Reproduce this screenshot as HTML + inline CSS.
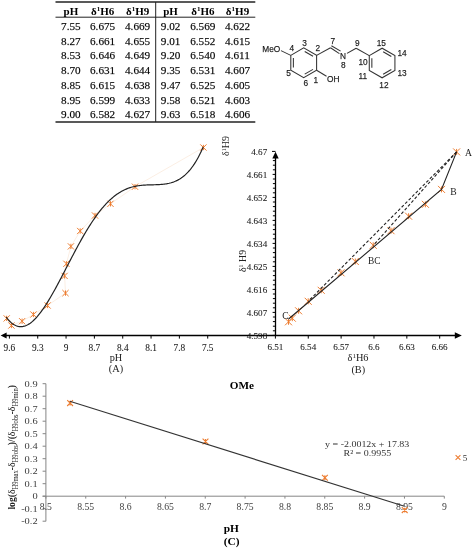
<!DOCTYPE html>
<html><head><meta charset="utf-8"><style>
html,body{margin:0;padding:0;background:#fff;width:472px;height:550px;overflow:hidden}
svg{display:block}
.tk{stroke:#000;stroke-width:0.25;stroke-opacity:0.6}
.tl{stroke:#000;stroke-width:0.15;stroke-opacity:0.5}
</style></head><body>
<svg width="472" height="550" viewBox="0 0 472 550">
<rect width="472" height="550" fill="#fff"/>
<line x1="55.5" y1="2" x2="255.3" y2="2" stroke="#222" stroke-width="1.6"/>
<line x1="55.5" y1="17.2" x2="255.3" y2="17.2" stroke="#222" stroke-width="1"/>
<line x1="55.5" y1="122" x2="255.3" y2="122" stroke="#222" stroke-width="1.6"/>
<line x1="155.7" y1="2" x2="155.7" y2="122" stroke="#222" stroke-width="1"/>
<text x="70.9" y="14.6" font-size="11" text-anchor="middle" font-weight="bold" font-family='"Liberation Serif", serif' fill="#000" >pH</text>
<text x="102.6" y="14.6" font-size="11" text-anchor="middle" font-weight="bold" font-family='"Liberation Serif", serif' fill="#000" >δ<tspan font-size="7" dy="-4">1</tspan><tspan dy="4">H6</tspan></text>
<text x="137.6" y="14.6" font-size="11" text-anchor="middle" font-weight="bold" font-family='"Liberation Serif", serif' fill="#000" >δ<tspan font-size="7" dy="-4">1</tspan><tspan dy="4">H9</tspan></text>
<text x="170.6" y="14.6" font-size="11" text-anchor="middle" font-weight="bold" font-family='"Liberation Serif", serif' fill="#000" >pH</text>
<text x="202.8" y="14.6" font-size="11" text-anchor="middle" font-weight="bold" font-family='"Liberation Serif", serif' fill="#000" >δ<tspan font-size="7" dy="-4">1</tspan><tspan dy="4">H6</tspan></text>
<text x="237.5" y="14.6" font-size="11" text-anchor="middle" font-weight="bold" font-family='"Liberation Serif", serif' fill="#000" >δ<tspan font-size="7" dy="-4">1</tspan><tspan dy="4">H9</tspan></text>
<text x="70.9" y="29.9" font-size="11.2" text-anchor="middle" font-weight="normal" font-family='"Liberation Serif", serif' fill="#000" class="tk">7.55</text>
<text x="102.6" y="29.9" font-size="11.2" text-anchor="middle" font-weight="normal" font-family='"Liberation Serif", serif' fill="#000" class="tk">6.675</text>
<text x="137.6" y="29.9" font-size="11.2" text-anchor="middle" font-weight="normal" font-family='"Liberation Serif", serif' fill="#000" class="tk">4.669</text>
<text x="170.6" y="29.9" font-size="11.2" text-anchor="middle" font-weight="normal" font-family='"Liberation Serif", serif' fill="#000" class="tk">9.02</text>
<text x="202.8" y="29.9" font-size="11.2" text-anchor="middle" font-weight="normal" font-family='"Liberation Serif", serif' fill="#000" class="tk">6.569</text>
<text x="237.5" y="29.9" font-size="11.2" text-anchor="middle" font-weight="normal" font-family='"Liberation Serif", serif' fill="#000" class="tk">4.622</text>
<text x="70.9" y="44.65" font-size="11.2" text-anchor="middle" font-weight="normal" font-family='"Liberation Serif", serif' fill="#000" class="tk">8.27</text>
<text x="102.6" y="44.65" font-size="11.2" text-anchor="middle" font-weight="normal" font-family='"Liberation Serif", serif' fill="#000" class="tk">6.661</text>
<text x="137.6" y="44.65" font-size="11.2" text-anchor="middle" font-weight="normal" font-family='"Liberation Serif", serif' fill="#000" class="tk">4.655</text>
<text x="170.6" y="44.65" font-size="11.2" text-anchor="middle" font-weight="normal" font-family='"Liberation Serif", serif' fill="#000" class="tk">9.01</text>
<text x="202.8" y="44.65" font-size="11.2" text-anchor="middle" font-weight="normal" font-family='"Liberation Serif", serif' fill="#000" class="tk">6.552</text>
<text x="237.5" y="44.65" font-size="11.2" text-anchor="middle" font-weight="normal" font-family='"Liberation Serif", serif' fill="#000" class="tk">4.615</text>
<text x="70.9" y="59.4" font-size="11.2" text-anchor="middle" font-weight="normal" font-family='"Liberation Serif", serif' fill="#000" class="tk">8.53</text>
<text x="102.6" y="59.4" font-size="11.2" text-anchor="middle" font-weight="normal" font-family='"Liberation Serif", serif' fill="#000" class="tk">6.646</text>
<text x="137.6" y="59.4" font-size="11.2" text-anchor="middle" font-weight="normal" font-family='"Liberation Serif", serif' fill="#000" class="tk">4.649</text>
<text x="170.6" y="59.4" font-size="11.2" text-anchor="middle" font-weight="normal" font-family='"Liberation Serif", serif' fill="#000" class="tk">9.20</text>
<text x="202.8" y="59.4" font-size="11.2" text-anchor="middle" font-weight="normal" font-family='"Liberation Serif", serif' fill="#000" class="tk">6.540</text>
<text x="237.5" y="59.4" font-size="11.2" text-anchor="middle" font-weight="normal" font-family='"Liberation Serif", serif' fill="#000" class="tk">4.611</text>
<text x="70.9" y="74.15" font-size="11.2" text-anchor="middle" font-weight="normal" font-family='"Liberation Serif", serif' fill="#000" class="tk">8.70</text>
<text x="102.6" y="74.15" font-size="11.2" text-anchor="middle" font-weight="normal" font-family='"Liberation Serif", serif' fill="#000" class="tk">6.631</text>
<text x="137.6" y="74.15" font-size="11.2" text-anchor="middle" font-weight="normal" font-family='"Liberation Serif", serif' fill="#000" class="tk">4.644</text>
<text x="170.6" y="74.15" font-size="11.2" text-anchor="middle" font-weight="normal" font-family='"Liberation Serif", serif' fill="#000" class="tk">9.35</text>
<text x="202.8" y="74.15" font-size="11.2" text-anchor="middle" font-weight="normal" font-family='"Liberation Serif", serif' fill="#000" class="tk">6.531</text>
<text x="237.5" y="74.15" font-size="11.2" text-anchor="middle" font-weight="normal" font-family='"Liberation Serif", serif' fill="#000" class="tk">4.607</text>
<text x="70.9" y="88.9" font-size="11.2" text-anchor="middle" font-weight="normal" font-family='"Liberation Serif", serif' fill="#000" class="tk">8.85</text>
<text x="102.6" y="88.9" font-size="11.2" text-anchor="middle" font-weight="normal" font-family='"Liberation Serif", serif' fill="#000" class="tk">6.615</text>
<text x="137.6" y="88.9" font-size="11.2" text-anchor="middle" font-weight="normal" font-family='"Liberation Serif", serif' fill="#000" class="tk">4.638</text>
<text x="170.6" y="88.9" font-size="11.2" text-anchor="middle" font-weight="normal" font-family='"Liberation Serif", serif' fill="#000" class="tk">9.47</text>
<text x="202.8" y="88.9" font-size="11.2" text-anchor="middle" font-weight="normal" font-family='"Liberation Serif", serif' fill="#000" class="tk">6.525</text>
<text x="237.5" y="88.9" font-size="11.2" text-anchor="middle" font-weight="normal" font-family='"Liberation Serif", serif' fill="#000" class="tk">4.605</text>
<text x="70.9" y="103.65" font-size="11.2" text-anchor="middle" font-weight="normal" font-family='"Liberation Serif", serif' fill="#000" class="tk">8.95</text>
<text x="102.6" y="103.65" font-size="11.2" text-anchor="middle" font-weight="normal" font-family='"Liberation Serif", serif' fill="#000" class="tk">6.599</text>
<text x="137.6" y="103.65" font-size="11.2" text-anchor="middle" font-weight="normal" font-family='"Liberation Serif", serif' fill="#000" class="tk">4.633</text>
<text x="170.6" y="103.65" font-size="11.2" text-anchor="middle" font-weight="normal" font-family='"Liberation Serif", serif' fill="#000" class="tk">9.58</text>
<text x="202.8" y="103.65" font-size="11.2" text-anchor="middle" font-weight="normal" font-family='"Liberation Serif", serif' fill="#000" class="tk">6.521</text>
<text x="237.5" y="103.65" font-size="11.2" text-anchor="middle" font-weight="normal" font-family='"Liberation Serif", serif' fill="#000" class="tk">4.603</text>
<text x="70.9" y="118.4" font-size="11.2" text-anchor="middle" font-weight="normal" font-family='"Liberation Serif", serif' fill="#000" class="tk">9.00</text>
<text x="102.6" y="118.4" font-size="11.2" text-anchor="middle" font-weight="normal" font-family='"Liberation Serif", serif' fill="#000" class="tk">6.582</text>
<text x="137.6" y="118.4" font-size="11.2" text-anchor="middle" font-weight="normal" font-family='"Liberation Serif", serif' fill="#000" class="tk">4.627</text>
<text x="170.6" y="118.4" font-size="11.2" text-anchor="middle" font-weight="normal" font-family='"Liberation Serif", serif' fill="#000" class="tk">9.63</text>
<text x="202.8" y="118.4" font-size="11.2" text-anchor="middle" font-weight="normal" font-family='"Liberation Serif", serif' fill="#000" class="tk">6.518</text>
<text x="237.5" y="118.4" font-size="11.2" text-anchor="middle" font-weight="normal" font-family='"Liberation Serif", serif' fill="#000" class="tk">4.606</text>
<polygon points="290.80,55.35 303.70,47.90 316.60,55.35 316.60,70.25 303.70,77.70 290.80,70.25" stroke="#333" stroke-width="1.05" fill="none"/>
<line x1="304.73" y1="51.48" x2="312.99" y2="56.24" stroke="#333" stroke-width="1.05" fill="none"/>
<line x1="312.99" y1="69.36" x2="304.73" y2="74.12" stroke="#333" stroke-width="1.05" fill="none"/>
<line x1="293.38" y1="67.57" x2="293.38" y2="58.03" stroke="#333" stroke-width="1.05" fill="none"/>
<polygon points="369.28,55.60 382.10,48.20 394.92,55.60 394.92,70.40 382.10,77.80 369.28,70.40" stroke="#333" stroke-width="1.05" fill="none"/>
<line x1="383.13" y1="51.75" x2="391.33" y2="56.49" stroke="#333" stroke-width="1.05" fill="none"/>
<line x1="391.33" y1="69.51" x2="383.13" y2="74.25" stroke="#333" stroke-width="1.05" fill="none"/>
<line x1="371.85" y1="67.74" x2="371.85" y2="58.26" stroke="#333" stroke-width="1.05" fill="none"/>
<line x1="316.60" y1="55.35" x2="330.50" y2="47.70" stroke="#333" stroke-width="1.05" fill="none" />
<line x1="330.50" y1="47.70" x2="339.40" y2="53.60" stroke="#333" stroke-width="1.05" fill="none" />
<line x1="331.40" y1="45.70" x2="340.60" y2="51.10" stroke="#333" stroke-width="1.05" fill="none" />
<line x1="347.00" y1="53.40" x2="356.10" y2="48.20" stroke="#333" stroke-width="1.05" fill="none" />
<line x1="356.10" y1="48.20" x2="369.28" y2="55.60" stroke="#333" stroke-width="1.05" fill="none" />
<line x1="316.60" y1="70.25" x2="326.50" y2="76.20" stroke="#333" stroke-width="1.05" fill="none" />
<line x1="290.80" y1="55.35" x2="281.00" y2="50.60" stroke="#333" stroke-width="1.05" fill="none" />
<text x="262.3" y="51.9" font-size="8.3" text-anchor="start" font-weight="normal" font-family='"Liberation Sans", sans-serif' fill="#222" class="tk">MeO</text>
<text x="327.0" y="81.6" font-size="8.3" text-anchor="start" font-weight="normal" font-family='"Liberation Sans", sans-serif' fill="#222" class="tk">OH</text>
<text x="343.0" y="59.1" font-size="8.3" text-anchor="middle" font-weight="normal" font-family='"Liberation Sans", sans-serif' fill="#222" class="tk">N</text>
<text x="304.5" y="45.8" font-size="8.3" text-anchor="middle" font-weight="normal" font-family='"Liberation Sans", sans-serif' fill="#222" class="tk">3</text>
<text x="291.8" y="51.4" font-size="8.3" text-anchor="middle" font-weight="normal" font-family='"Liberation Sans", sans-serif' fill="#222" class="tk">4</text>
<text x="317.8" y="51.4" font-size="8.3" text-anchor="middle" font-weight="normal" font-family='"Liberation Sans", sans-serif' fill="#222" class="tk">2</text>
<text x="288.6" y="75.5" font-size="8.3" text-anchor="middle" font-weight="normal" font-family='"Liberation Sans", sans-serif' fill="#222" class="tk">5</text>
<text x="315.9" y="82.5" font-size="8.3" text-anchor="middle" font-weight="normal" font-family='"Liberation Sans", sans-serif' fill="#222" class="tk">1</text>
<text x="305.7" y="85.7" font-size="8.3" text-anchor="middle" font-weight="normal" font-family='"Liberation Sans", sans-serif' fill="#222" class="tk">6</text>
<text x="332.8" y="44.4" font-size="8.3" text-anchor="middle" font-weight="normal" font-family='"Liberation Sans", sans-serif' fill="#222" class="tk">7</text>
<text x="343.2" y="68.3" font-size="8.3" text-anchor="middle" font-weight="normal" font-family='"Liberation Sans", sans-serif' fill="#222" class="tk">8</text>
<text x="357.4" y="45.6" font-size="8.3" text-anchor="middle" font-weight="normal" font-family='"Liberation Sans", sans-serif' fill="#222" class="tk">9</text>
<text x="381.3" y="46" font-size="8.3" text-anchor="middle" font-weight="normal" font-family='"Liberation Sans", sans-serif' fill="#222" class="tk">15</text>
<text x="402.1" y="56.4" font-size="8.3" text-anchor="middle" font-weight="normal" font-family='"Liberation Sans", sans-serif' fill="#222" class="tk">14</text>
<text x="363.0" y="65" font-size="8.3" text-anchor="middle" font-weight="normal" font-family='"Liberation Sans", sans-serif' fill="#222" class="tk">10</text>
<text x="402.1" y="76.4" font-size="8.3" text-anchor="middle" font-weight="normal" font-family='"Liberation Sans", sans-serif' fill="#222" class="tk">13</text>
<text x="362.8" y="79.4" font-size="8.3" text-anchor="middle" font-weight="normal" font-family='"Liberation Sans", sans-serif' fill="#222" class="tk">11</text>
<text x="383.9" y="87.5" font-size="8.3" text-anchor="middle" font-weight="normal" font-family='"Liberation Sans", sans-serif' fill="#222" class="tk">12</text>
<polyline points="6.7,318.4 11.4,325.5 22.1,321.2 33.4,314.5 47.6,305.5 65.5,293.1 64.6,275.9 66.4,263.8 70.9,246.4 80.2,231 95,215.5 110.5,203.8 135,186.7 203.4,147.5" stroke="#F7E0CC" stroke-width="0.55" fill="none"/>
<path d="M3.60,315.30L9.80,321.50M3.60,321.50L9.80,315.30M6.70,315.76L6.70,321.03" stroke="#ED7D31" stroke-width="1.0" fill="none"/>
<path d="M8.30,322.40L14.50,328.60M8.30,328.60L14.50,322.40M11.40,322.87L11.40,328.13" stroke="#ED7D31" stroke-width="1.0" fill="none"/>
<path d="M19.00,318.10L25.20,324.30M19.00,324.30L25.20,318.10M22.10,318.56L22.10,323.83" stroke="#ED7D31" stroke-width="1.0" fill="none"/>
<path d="M30.30,311.40L36.50,317.60M30.30,317.60L36.50,311.40M33.40,311.87L33.40,317.13" stroke="#ED7D31" stroke-width="1.0" fill="none"/>
<path d="M44.50,302.40L50.70,308.60M44.50,308.60L50.70,302.40M47.60,302.87L47.60,308.13" stroke="#ED7D31" stroke-width="1.0" fill="none"/>
<path d="M62.40,290.00L68.60,296.20M62.40,296.20L68.60,290.00M65.50,290.47L65.50,295.74" stroke="#ED7D31" stroke-width="1.0" fill="none"/>
<path d="M61.50,272.80L67.70,279.00M61.50,279.00L67.70,272.80M64.60,273.26L64.60,278.53" stroke="#ED7D31" stroke-width="1.0" fill="none"/>
<path d="M63.30,260.70L69.50,266.90M63.30,266.90L69.50,260.70M66.40,261.17L66.40,266.44" stroke="#ED7D31" stroke-width="1.0" fill="none"/>
<path d="M67.80,243.30L74.00,249.50M67.80,249.50L74.00,243.30M70.90,243.77L70.90,249.03" stroke="#ED7D31" stroke-width="1.0" fill="none"/>
<path d="M77.10,227.90L83.30,234.10M77.10,234.10L83.30,227.90M80.20,228.37L80.20,233.63" stroke="#ED7D31" stroke-width="1.0" fill="none"/>
<path d="M91.90,212.40L98.10,218.60M91.90,218.60L98.10,212.40M95.00,212.87L95.00,218.13" stroke="#ED7D31" stroke-width="1.0" fill="none"/>
<path d="M107.40,200.70L113.60,206.90M107.40,206.90L113.60,200.70M110.50,201.17L110.50,206.44" stroke="#ED7D31" stroke-width="1.0" fill="none"/>
<path d="M131.90,183.60L138.10,189.80M131.90,189.80L138.10,183.60M135.00,184.06L135.00,189.33" stroke="#ED7D31" stroke-width="1.0" fill="none"/>
<path d="M200.30,144.40L206.50,150.60M200.30,150.60L206.50,144.40M203.40,144.87L203.40,150.13" stroke="#ED7D31" stroke-width="1.0" fill="none"/>
<polyline points="6.2,317.17 7.2,318.46 8.2,319.65 9.2,320.74 10.2,321.74 11.2,322.64 12.2,323.45 13.2,324.17 14.2,324.80 15.2,325.33 16.2,325.77 17.2,326.13 18.2,326.39 19.2,326.57 20.2,326.66 21.2,326.67 22.2,326.60 23.2,326.44 24.2,326.20 25.2,325.89 26.2,325.50 27.2,325.03 28.2,324.49 29.2,323.88 30.2,323.19 31.2,322.44 32.2,321.62 33.2,320.74 34.2,319.80 35.2,318.79 36.2,317.73 37.2,316.61 38.2,315.43 39.2,314.20 40.2,312.92 41.2,311.59 42.2,310.21 43.2,308.79 44.2,307.32 45.2,305.82 46.2,304.27 47.2,302.69 48.2,301.07 49.2,299.42 50.2,297.73 51.2,296.02 52.2,294.28 53.2,292.52 54.2,290.73 55.2,288.92 56.2,287.09 57.2,285.24 58.2,283.37 59.2,281.50 60.2,279.60 61.2,277.70 62.2,275.79 63.2,273.87 64.2,271.95 65.2,270.02 66.2,268.09 67.2,266.16 68.2,264.24 69.2,262.31 70.2,260.39 71.2,258.47 72.2,256.56 73.2,254.66 74.2,252.77 75.2,250.89 76.2,249.02 77.2,247.16 78.2,245.33 79.2,243.50 80.2,241.70 81.2,239.91 82.2,238.14 83.2,236.39 84.2,234.67 85.2,232.97 86.2,231.29 87.2,229.63 88.2,228.00 89.2,226.40 90.2,224.82 91.2,223.27 92.2,221.75 93.2,220.26 94.2,218.80 95.2,217.36 96.2,215.96 97.2,214.59 98.2,213.25 99.2,211.94 100.2,210.67 101.2,209.43 102.2,208.22 103.2,207.04 104.2,205.90 105.2,204.79 106.2,203.71 107.2,202.67 108.2,201.66 109.2,200.68 110.2,199.74 111.2,198.83 112.2,197.96 113.2,197.12 114.2,196.31 115.2,195.53 116.2,194.79 117.2,194.08 118.2,193.40 119.2,192.76 120.2,192.14 121.2,191.56 122.2,191.00 123.2,190.48 124.2,189.98 125.2,189.52 126.2,189.08 127.2,188.67 128.2,188.29 129.2,187.93 130.2,187.60 131.2,187.29 132.2,187.00 133.2,186.74 134.2,186.50 135.2,186.29 136.2,186.09 137.2,185.91 138.2,185.75 139.2,185.61 140.2,185.48 141.2,185.37 142.2,185.27 143.2,185.18 144.2,185.11 145.2,185.05 146.2,185.00 147.2,184.95 148.2,184.92 149.2,184.88 150.2,184.86 151.2,184.83 152.2,184.81 153.2,184.79 154.2,184.76 155.2,184.74 156.2,184.71 157.2,184.67 158.2,184.63 159.2,184.58 160.2,184.52 161.2,184.45 162.2,184.37 163.2,184.27 164.2,184.15 165.2,184.02 166.2,183.86 167.2,183.69 168.2,183.49 169.2,183.27 170.2,183.02 171.2,182.75 172.2,182.44 173.2,182.10 174.2,181.73 175.2,181.32 176.2,180.88 177.2,180.39 178.2,179.87 179.2,179.30 180.2,178.68 181.2,178.02 182.2,177.31 183.2,176.55 184.2,175.73 185.2,174.86 186.2,173.93 187.2,172.94 188.2,171.89 189.2,170.77 190.2,169.59 191.2,168.34 192.2,167.01 193.2,165.62 194.2,164.15 195.2,162.59 196.2,160.96 197.2,159.25 198.2,157.45 199.2,155.56 200.2,153.58 201.2,151.50 202.2,149.33 203.2,147.06" stroke="#222" stroke-width="1.2" fill="none"/>
<line x1="4" y1="335.5" x2="456" y2="335.5" stroke="#000" stroke-width="1.3"/>
<polygon points="0.6,335.5 6.6,332.4 6.6,338.6" fill="#000"/>
<line x1="9.40" y1="335.5" x2="9.40" y2="338.6" stroke="#000" stroke-width="1"/>
<text x="9.4" y="350.7" font-size="9.3" text-anchor="middle" font-weight="normal" font-family='"Liberation Serif", serif' fill="#222" class="tl">9.6</text>
<line x1="37.73" y1="335.5" x2="37.73" y2="338.6" stroke="#000" stroke-width="1"/>
<text x="37.73" y="350.7" font-size="9.3" text-anchor="middle" font-weight="normal" font-family='"Liberation Serif", serif' fill="#222" class="tl">9.3</text>
<line x1="66.06" y1="335.5" x2="66.06" y2="338.6" stroke="#000" stroke-width="1"/>
<text x="66.06" y="350.7" font-size="9.3" text-anchor="middle" font-weight="normal" font-family='"Liberation Serif", serif' fill="#222" class="tl">9</text>
<line x1="94.39" y1="335.5" x2="94.39" y2="338.6" stroke="#000" stroke-width="1"/>
<text x="94.39" y="350.7" font-size="9.3" text-anchor="middle" font-weight="normal" font-family='"Liberation Serif", serif' fill="#222" class="tl">8.7</text>
<line x1="122.72" y1="335.5" x2="122.72" y2="338.6" stroke="#000" stroke-width="1"/>
<text x="122.72" y="350.7" font-size="9.3" text-anchor="middle" font-weight="normal" font-family='"Liberation Serif", serif' fill="#222" class="tl">8.4</text>
<line x1="151.05" y1="335.5" x2="151.05" y2="338.6" stroke="#000" stroke-width="1"/>
<text x="151.05" y="350.7" font-size="9.3" text-anchor="middle" font-weight="normal" font-family='"Liberation Serif", serif' fill="#222" class="tl">8.1</text>
<line x1="179.38" y1="335.5" x2="179.38" y2="338.6" stroke="#000" stroke-width="1"/>
<text x="179.38" y="350.7" font-size="9.3" text-anchor="middle" font-weight="normal" font-family='"Liberation Serif", serif' fill="#222" class="tl">7.8</text>
<line x1="207.71" y1="335.5" x2="207.71" y2="338.6" stroke="#000" stroke-width="1"/>
<text x="207.71" y="350.7" font-size="9.3" text-anchor="middle" font-weight="normal" font-family='"Liberation Serif", serif' fill="#222" class="tl">7.5</text>
<text x="116" y="361.0" font-size="10.3" text-anchor="middle" font-weight="normal" font-family='"Liberation Serif", serif' fill="#222" >pH</text>
<text x="116" y="372.4" font-size="10.3" text-anchor="middle" font-weight="normal" font-family='"Liberation Serif", serif' fill="#222" >(A)</text>
<text transform="translate(228.6,156) rotate(-90)" font-size="10" font-family='"Liberation Serif", serif' fill="#222">δ<tspan font-size="6" dy="-3">1</tspan><tspan dy="3">H9</tspan></text>
<line x1="275.5" y1="335.5" x2="275.5" y2="158" stroke="#000" stroke-width="1.3"/>
<polygon points="275.5,151.8 272.3,158.6 278.7,158.6" fill="#000"/>
<line x1="272.6" y1="335.40" x2="275.5" y2="335.40" stroke="#000" stroke-width="1"/>
<line x1="272.9" y1="330.80" x2="275.5" y2="330.80" stroke="#000" stroke-width="1"/>
<line x1="272.9" y1="326.20" x2="275.5" y2="326.20" stroke="#000" stroke-width="1"/>
<line x1="272.9" y1="321.60" x2="275.5" y2="321.60" stroke="#000" stroke-width="1"/>
<line x1="272.9" y1="317.00" x2="275.5" y2="317.00" stroke="#000" stroke-width="1"/>
<line x1="272.6" y1="312.40" x2="275.5" y2="312.40" stroke="#000" stroke-width="1"/>
<line x1="272.9" y1="307.80" x2="275.5" y2="307.80" stroke="#000" stroke-width="1"/>
<line x1="272.9" y1="303.20" x2="275.5" y2="303.20" stroke="#000" stroke-width="1"/>
<line x1="272.9" y1="298.60" x2="275.5" y2="298.60" stroke="#000" stroke-width="1"/>
<line x1="272.9" y1="294.00" x2="275.5" y2="294.00" stroke="#000" stroke-width="1"/>
<line x1="272.6" y1="289.40" x2="275.5" y2="289.40" stroke="#000" stroke-width="1"/>
<line x1="272.9" y1="284.80" x2="275.5" y2="284.80" stroke="#000" stroke-width="1"/>
<line x1="272.9" y1="280.20" x2="275.5" y2="280.20" stroke="#000" stroke-width="1"/>
<line x1="272.9" y1="275.60" x2="275.5" y2="275.60" stroke="#000" stroke-width="1"/>
<line x1="272.9" y1="271.00" x2="275.5" y2="271.00" stroke="#000" stroke-width="1"/>
<line x1="272.6" y1="266.40" x2="275.5" y2="266.40" stroke="#000" stroke-width="1"/>
<line x1="272.9" y1="261.80" x2="275.5" y2="261.80" stroke="#000" stroke-width="1"/>
<line x1="272.9" y1="257.20" x2="275.5" y2="257.20" stroke="#000" stroke-width="1"/>
<line x1="272.9" y1="252.60" x2="275.5" y2="252.60" stroke="#000" stroke-width="1"/>
<line x1="272.9" y1="248.00" x2="275.5" y2="248.00" stroke="#000" stroke-width="1"/>
<line x1="272.6" y1="243.40" x2="275.5" y2="243.40" stroke="#000" stroke-width="1"/>
<line x1="272.9" y1="238.80" x2="275.5" y2="238.80" stroke="#000" stroke-width="1"/>
<line x1="272.9" y1="234.20" x2="275.5" y2="234.20" stroke="#000" stroke-width="1"/>
<line x1="272.9" y1="229.60" x2="275.5" y2="229.60" stroke="#000" stroke-width="1"/>
<line x1="272.9" y1="225.00" x2="275.5" y2="225.00" stroke="#000" stroke-width="1"/>
<line x1="272.6" y1="220.40" x2="275.5" y2="220.40" stroke="#000" stroke-width="1"/>
<line x1="272.9" y1="215.80" x2="275.5" y2="215.80" stroke="#000" stroke-width="1"/>
<line x1="272.9" y1="211.20" x2="275.5" y2="211.20" stroke="#000" stroke-width="1"/>
<line x1="272.9" y1="206.60" x2="275.5" y2="206.60" stroke="#000" stroke-width="1"/>
<line x1="272.9" y1="202.00" x2="275.5" y2="202.00" stroke="#000" stroke-width="1"/>
<line x1="272.6" y1="197.40" x2="275.5" y2="197.40" stroke="#000" stroke-width="1"/>
<line x1="272.9" y1="192.80" x2="275.5" y2="192.80" stroke="#000" stroke-width="1"/>
<line x1="272.9" y1="188.20" x2="275.5" y2="188.20" stroke="#000" stroke-width="1"/>
<line x1="272.9" y1="183.60" x2="275.5" y2="183.60" stroke="#000" stroke-width="1"/>
<line x1="272.9" y1="179.00" x2="275.5" y2="179.00" stroke="#000" stroke-width="1"/>
<line x1="272.6" y1="174.40" x2="275.5" y2="174.40" stroke="#000" stroke-width="1"/>
<line x1="272.9" y1="169.80" x2="275.5" y2="169.80" stroke="#000" stroke-width="1"/>
<line x1="272.9" y1="165.20" x2="275.5" y2="165.20" stroke="#000" stroke-width="1"/>
<line x1="272.9" y1="160.60" x2="275.5" y2="160.60" stroke="#000" stroke-width="1"/>
<line x1="272.0" y1="151.4" x2="275.5" y2="151.4" stroke="#000" stroke-width="1"/>
<text x="267.2" y="338.5" font-size="9.1" text-anchor="end" font-weight="normal" font-family='"Liberation Serif", serif' fill="#222" class="tl">4.598</text>
<text x="267.2" y="315.5" font-size="9.1" text-anchor="end" font-weight="normal" font-family='"Liberation Serif", serif' fill="#222" class="tl">4.607</text>
<text x="267.2" y="292.5" font-size="9.1" text-anchor="end" font-weight="normal" font-family='"Liberation Serif", serif' fill="#222" class="tl">4.616</text>
<text x="267.2" y="269.5" font-size="9.1" text-anchor="end" font-weight="normal" font-family='"Liberation Serif", serif' fill="#222" class="tl">4.625</text>
<text x="267.2" y="246.5" font-size="9.1" text-anchor="end" font-weight="normal" font-family='"Liberation Serif", serif' fill="#222" class="tl">4.634</text>
<text x="267.2" y="223.5" font-size="9.1" text-anchor="end" font-weight="normal" font-family='"Liberation Serif", serif' fill="#222" class="tl">4.643</text>
<text x="267.2" y="200.5" font-size="9.1" text-anchor="end" font-weight="normal" font-family='"Liberation Serif", serif' fill="#222" class="tl">4.652</text>
<text x="267.2" y="177.5" font-size="9.1" text-anchor="end" font-weight="normal" font-family='"Liberation Serif", serif' fill="#222" class="tl">4.661</text>
<text x="267.2" y="154.5" font-size="9.1" text-anchor="end" font-weight="normal" font-family='"Liberation Serif", serif' fill="#222" class="tl">4.67</text>
<polygon points="461.8,335.5 454.8,332.3 454.8,338.7" fill="#000"/>
<line x1="275.40" y1="335.5" x2="275.40" y2="338.6" stroke="#000" stroke-width="1"/>
<text x="275.4" y="350.0" font-size="9.1" text-anchor="middle" font-weight="normal" font-family='"Liberation Serif", serif' fill="#222" class="tl">6.51</text>
<line x1="308.26" y1="335.5" x2="308.26" y2="338.6" stroke="#000" stroke-width="1"/>
<text x="308.26" y="350.0" font-size="9.1" text-anchor="middle" font-weight="normal" font-family='"Liberation Serif", serif' fill="#222" class="tl">6.54</text>
<line x1="341.12" y1="335.5" x2="341.12" y2="338.6" stroke="#000" stroke-width="1"/>
<text x="341.12" y="350.0" font-size="9.1" text-anchor="middle" font-weight="normal" font-family='"Liberation Serif", serif' fill="#222" class="tl">6.57</text>
<line x1="373.98" y1="335.5" x2="373.98" y2="338.6" stroke="#000" stroke-width="1"/>
<text x="373.98" y="350.0" font-size="9.1" text-anchor="middle" font-weight="normal" font-family='"Liberation Serif", serif' fill="#222" class="tl">6.6</text>
<line x1="406.84" y1="335.5" x2="406.84" y2="338.6" stroke="#000" stroke-width="1"/>
<text x="406.84" y="350.0" font-size="9.1" text-anchor="middle" font-weight="normal" font-family='"Liberation Serif", serif' fill="#222" class="tl">6.63</text>
<line x1="439.70" y1="335.5" x2="439.70" y2="338.6" stroke="#000" stroke-width="1"/>
<text x="439.7" y="350.0" font-size="9.1" text-anchor="middle" font-weight="normal" font-family='"Liberation Serif", serif' fill="#222" class="tl">6.66</text>
<text x="358" y="360.8" font-size="10.3" text-anchor="middle" font-weight="normal" font-family='"Liberation Serif", serif' fill="#222" >δ<tspan font-size="7" dy="-3.2">1</tspan><tspan dy="3.2">H6</tspan></text>
<text x="358.3" y="372.9" font-size="10.3" text-anchor="middle" font-weight="normal" font-family='"Liberation Serif", serif' fill="#222" >(B)</text>
<text transform="translate(246,272) rotate(-90)" font-size="9.8" font-family='"Liberation Serif", serif' fill="#222">δ<tspan font-size="6" dy="-3">1</tspan><tspan dy="3"> H9</tspan></text>
<path d="M453.10,148.40L460.10,155.40M453.10,155.40L460.10,148.40M456.60,148.93L456.60,154.88" stroke="#ED7D31" stroke-width="1.0" fill="none"/>
<path d="M438.00,185.90L445.00,192.90M438.00,192.90L445.00,185.90M441.50,186.43L441.50,192.38" stroke="#ED7D31" stroke-width="1.0" fill="none"/>
<path d="M421.90,200.80L428.90,207.80M421.90,207.80L428.90,200.80M425.40,201.33L425.40,207.28" stroke="#ED7D31" stroke-width="1.0" fill="none"/>
<path d="M405.10,212.70L412.10,219.70M405.10,219.70L412.10,212.70M408.60,213.22L408.60,219.17" stroke="#ED7D31" stroke-width="1.0" fill="none"/>
<path d="M387.50,227.20L394.50,234.20M387.50,234.20L394.50,227.20M391.00,227.72L391.00,233.67" stroke="#ED7D31" stroke-width="1.0" fill="none"/>
<path d="M369.70,241.80L376.70,248.80M369.70,248.80L376.70,241.80M373.20,242.33L373.20,248.28" stroke="#ED7D31" stroke-width="1.0" fill="none"/>
<path d="M351.80,258.00L358.80,265.00M351.80,265.00L358.80,258.00M355.30,258.52L355.30,264.48" stroke="#ED7D31" stroke-width="1.0" fill="none"/>
<path d="M337.50,269.30L344.50,276.30M337.50,276.30L344.50,269.30M341.00,269.82L341.00,275.78" stroke="#ED7D31" stroke-width="1.0" fill="none"/>
<path d="M317.70,286.80L324.70,293.80M317.70,293.80L324.70,286.80M321.20,287.32L321.20,293.28" stroke="#ED7D31" stroke-width="1.0" fill="none"/>
<path d="M304.70,297.80L311.70,304.80M304.70,304.80L311.70,297.80M308.20,298.32L308.20,304.28" stroke="#ED7D31" stroke-width="1.0" fill="none"/>
<path d="M295.10,307.30L302.10,314.30M295.10,314.30L302.10,307.30M298.60,307.82L298.60,313.78" stroke="#ED7D31" stroke-width="1.0" fill="none"/>
<path d="M288.80,314.70L295.80,321.70M288.80,321.70L295.80,314.70M292.30,315.22L292.30,321.18" stroke="#ED7D31" stroke-width="1.0" fill="none"/>
<path d="M285.00,318.30L292.00,325.30M285.00,325.30L292.00,318.30M288.50,318.82L288.50,324.78" stroke="#ED7D31" stroke-width="1.0" fill="none"/>
<polyline points="288.6,319.0 441.5,189.4 456.6,151.9" stroke="#222" stroke-width="1.1" fill="none"/>
<line x1="456.6" y1="151.9" x2="308.2" y2="301.3" stroke="#222" stroke-width="1.1" stroke-dasharray="3,2"/>
<line x1="456.6" y1="151.9" x2="373.2" y2="245.5" stroke="#222" stroke-width="1.1" stroke-dasharray="3,2"/>
<text x="465" y="155.6" font-size="9.6" text-anchor="start" font-weight="normal" font-family='"Liberation Serif", serif' fill="#222" >A</text>
<text x="450.3" y="195" font-size="9.6" text-anchor="start" font-weight="normal" font-family='"Liberation Serif", serif' fill="#222" >B</text>
<text x="368.1" y="264" font-size="9.4" text-anchor="start" font-weight="normal" font-family='"Liberation Serif", serif' fill="#222" >BC</text>
<text x="282.3" y="318.6" font-size="9.6" text-anchor="start" font-weight="normal" font-family='"Liberation Serif", serif' fill="#222" >C</text>
<line x1="45.9" y1="383.7" x2="45.9" y2="521.3" stroke="#868686" stroke-width="1"/>
<line x1="42.6" y1="521.20" x2="45.9" y2="521.20" stroke="#868686" stroke-width="1"/>
<text transform="translate(37.6,524.2) scale(1.17,1)" font-size="8.9" text-anchor="end" font-weight="normal" font-family='"Liberation Serif", serif' fill="#3a3a3a">-0.2</text>
<line x1="42.6" y1="508.70" x2="45.9" y2="508.70" stroke="#868686" stroke-width="1"/>
<text transform="translate(37.6,511.7) scale(1.17,1)" font-size="8.9" text-anchor="end" font-weight="normal" font-family='"Liberation Serif", serif' fill="#3a3a3a">-0.1</text>
<line x1="42.6" y1="496.20" x2="45.9" y2="496.20" stroke="#868686" stroke-width="1"/>
<text transform="translate(37.6,499.2) scale(1.17,1)" font-size="8.9" text-anchor="end" font-weight="normal" font-family='"Liberation Serif", serif' fill="#3a3a3a">0</text>
<line x1="42.6" y1="483.70" x2="45.9" y2="483.70" stroke="#868686" stroke-width="1"/>
<text transform="translate(37.6,486.7) scale(1.17,1)" font-size="8.9" text-anchor="end" font-weight="normal" font-family='"Liberation Serif", serif' fill="#3a3a3a">0.1</text>
<line x1="42.6" y1="471.20" x2="45.9" y2="471.20" stroke="#868686" stroke-width="1"/>
<text transform="translate(37.6,474.2) scale(1.17,1)" font-size="8.9" text-anchor="end" font-weight="normal" font-family='"Liberation Serif", serif' fill="#3a3a3a">0.2</text>
<line x1="42.6" y1="458.70" x2="45.9" y2="458.70" stroke="#868686" stroke-width="1"/>
<text transform="translate(37.6,461.7) scale(1.17,1)" font-size="8.9" text-anchor="end" font-weight="normal" font-family='"Liberation Serif", serif' fill="#3a3a3a">0.3</text>
<line x1="42.6" y1="446.20" x2="45.9" y2="446.20" stroke="#868686" stroke-width="1"/>
<text transform="translate(37.6,449.2) scale(1.17,1)" font-size="8.9" text-anchor="end" font-weight="normal" font-family='"Liberation Serif", serif' fill="#3a3a3a">0.4</text>
<line x1="42.6" y1="433.70" x2="45.9" y2="433.70" stroke="#868686" stroke-width="1"/>
<text transform="translate(37.6,436.7) scale(1.17,1)" font-size="8.9" text-anchor="end" font-weight="normal" font-family='"Liberation Serif", serif' fill="#3a3a3a">0.5</text>
<line x1="42.6" y1="421.20" x2="45.9" y2="421.20" stroke="#868686" stroke-width="1"/>
<text transform="translate(37.6,424.2) scale(1.17,1)" font-size="8.9" text-anchor="end" font-weight="normal" font-family='"Liberation Serif", serif' fill="#3a3a3a">0.6</text>
<line x1="42.6" y1="408.70" x2="45.9" y2="408.70" stroke="#868686" stroke-width="1"/>
<text transform="translate(37.6,411.7) scale(1.17,1)" font-size="8.9" text-anchor="end" font-weight="normal" font-family='"Liberation Serif", serif' fill="#3a3a3a">0.7</text>
<line x1="42.6" y1="396.20" x2="45.9" y2="396.20" stroke="#868686" stroke-width="1"/>
<text transform="translate(37.6,399.2) scale(1.17,1)" font-size="8.9" text-anchor="end" font-weight="normal" font-family='"Liberation Serif", serif' fill="#3a3a3a">0.8</text>
<line x1="42.6" y1="383.70" x2="45.9" y2="383.70" stroke="#868686" stroke-width="1"/>
<text transform="translate(37.6,386.7) scale(1.17,1)" font-size="8.9" text-anchor="end" font-weight="normal" font-family='"Liberation Serif", serif' fill="#3a3a3a">0.9</text>
<line x1="42.6" y1="496.2" x2="444.3" y2="496.2" stroke="#868686" stroke-width="1"/>
<line x1="45.90" y1="496.2" x2="45.90" y2="498.6" stroke="#868686" stroke-width="1"/>
<text x="45.9" y="509.6" font-size="9.7" text-anchor="middle" font-weight="normal" font-family='"Liberation Serif", serif' fill="#404040" >8.5</text>
<line x1="85.74" y1="496.2" x2="85.74" y2="498.6" stroke="#868686" stroke-width="1"/>
<text x="85.74" y="509.6" font-size="9.7" text-anchor="middle" font-weight="normal" font-family='"Liberation Serif", serif' fill="#404040" >8.55</text>
<line x1="125.58" y1="496.2" x2="125.58" y2="498.6" stroke="#868686" stroke-width="1"/>
<text x="125.58" y="509.6" font-size="9.7" text-anchor="middle" font-weight="normal" font-family='"Liberation Serif", serif' fill="#404040" >8.6</text>
<line x1="165.42" y1="496.2" x2="165.42" y2="498.6" stroke="#868686" stroke-width="1"/>
<text x="165.42" y="509.6" font-size="9.7" text-anchor="middle" font-weight="normal" font-family='"Liberation Serif", serif' fill="#404040" >8.65</text>
<line x1="205.26" y1="496.2" x2="205.26" y2="498.6" stroke="#868686" stroke-width="1"/>
<text x="205.26" y="509.6" font-size="9.7" text-anchor="middle" font-weight="normal" font-family='"Liberation Serif", serif' fill="#404040" >8.7</text>
<line x1="245.10" y1="496.2" x2="245.10" y2="498.6" stroke="#868686" stroke-width="1"/>
<text x="245.1" y="509.6" font-size="9.7" text-anchor="middle" font-weight="normal" font-family='"Liberation Serif", serif' fill="#404040" >8.75</text>
<line x1="284.94" y1="496.2" x2="284.94" y2="498.6" stroke="#868686" stroke-width="1"/>
<text x="284.94" y="509.6" font-size="9.7" text-anchor="middle" font-weight="normal" font-family='"Liberation Serif", serif' fill="#404040" >8.8</text>
<line x1="324.78" y1="496.2" x2="324.78" y2="498.6" stroke="#868686" stroke-width="1"/>
<text x="324.78" y="509.6" font-size="9.7" text-anchor="middle" font-weight="normal" font-family='"Liberation Serif", serif' fill="#404040" >8.85</text>
<line x1="364.62" y1="496.2" x2="364.62" y2="498.6" stroke="#868686" stroke-width="1"/>
<text x="364.62" y="509.6" font-size="9.7" text-anchor="middle" font-weight="normal" font-family='"Liberation Serif", serif' fill="#404040" >8.9</text>
<line x1="404.46" y1="496.2" x2="404.46" y2="498.6" stroke="#868686" stroke-width="1"/>
<text x="404.46" y="509.6" font-size="9.7" text-anchor="middle" font-weight="normal" font-family='"Liberation Serif", serif' fill="#404040" >8.95</text>
<line x1="444.30" y1="496.2" x2="444.30" y2="498.6" stroke="#868686" stroke-width="1"/>
<text x="444.3" y="509.6" font-size="9.7" text-anchor="middle" font-weight="normal" font-family='"Liberation Serif", serif' fill="#404040" >9</text>
<path d="M67.20,400.20L73.00,406.00M67.20,406.00L73.00,400.20M70.10,400.64L70.10,405.56" stroke="#ED7D31" stroke-width="1.1" fill="none"/>
<path d="M202.60,438.60L208.40,444.40M202.60,444.40L208.40,438.60M205.50,439.04L205.50,443.96" stroke="#ED7D31" stroke-width="1.1" fill="none"/>
<path d="M322.00,474.90L327.80,480.70M322.00,480.70L327.80,474.90M324.90,475.34L324.90,480.26" stroke="#ED7D31" stroke-width="1.1" fill="none"/>
<path d="M401.80,507.20L407.60,513.00M401.80,513.00L407.60,507.20M404.70,507.64L404.70,512.57" stroke="#ED7D31" stroke-width="1.1" fill="none"/>
<line x1="69.80" y1="401.23" x2="404.46" y2="506.29" stroke="#333" stroke-width="1.1"/>
<text transform="translate(367.2,446.7) scale(1.16,1)" font-size="8.6" text-anchor="middle" font-weight="normal" font-family='"Liberation Serif", serif' fill="#333">y = -2.0012x + 17.83</text>
<text transform="translate(367.3,456.2) scale(1.16,1)" font-size="8.6" text-anchor="middle" font-weight="normal" font-family='"Liberation Serif", serif' fill="#333">R² = 0.9955</text>
<path d="M455.60,455.10L460.40,459.90M455.60,459.90L460.40,455.10" stroke="#ED7D31" stroke-width="1.1" fill="none"/>
<text x="462.8" y="461" font-size="9.0" text-anchor="start" font-weight="normal" font-family='"Liberation Serif", serif' fill="#333" >5</text>
<text x="241.9" y="388.6" font-size="11.2" text-anchor="middle" font-weight="bold" font-family='"Liberation Serif", serif' fill="#000" >OMe</text>
<text x="231.3" y="532.2" font-size="11.4" text-anchor="middle" font-weight="bold" font-family='"Liberation Serif", serif' fill="#000" >pH</text>
<text x="231.6" y="545.4" font-size="11.4" text-anchor="middle" font-weight="bold" font-family='"Liberation Serif", serif' fill="#000" >(C)</text>
<text transform="translate(14.6,509.6) scale(1.22,1) rotate(-90)" textLength="124.5" lengthAdjust="spacingAndGlyphs" font-size="9.2" font-weight="bold" font-family='"Liberation Serif", serif' fill="#222">log(<tspan font-weight="normal">δ</tspan><tspan font-size="6.3" font-weight="normal" dy="2.4">H9max</tspan><tspan dy="-2.4">-</tspan><tspan font-weight="normal">δ</tspan><tspan font-size="6.3" font-weight="normal" dy="2.4">H9obs</tspan><tspan dy="-2.4">)/(</tspan><tspan font-weight="normal">δ</tspan><tspan font-size="6.3" font-weight="normal" dy="2.4">H9obs</tspan><tspan dy="-2.4">-</tspan><tspan font-weight="normal">δ</tspan><tspan font-size="6.3" font-weight="normal" dy="2.4">H9min</tspan><tspan dy="-2.4">)</tspan></text>
</svg>
</body></html>
